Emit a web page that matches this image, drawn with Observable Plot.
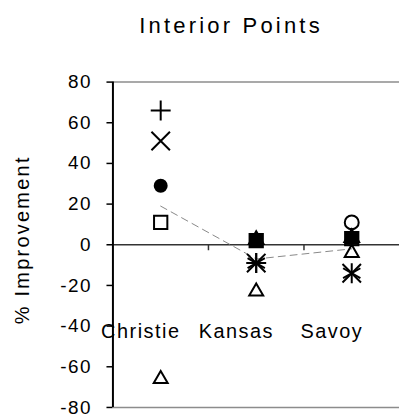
<!DOCTYPE html>
<html>
<head>
<meta charset="utf-8">
<script src="https://cdn.jsdelivr.net/npm/d3@7"></script>
<script src="https://cdn.jsdelivr.net/npm/@observablehq/plot@0.6"></script>
<style>
  html, body { margin: 0; padding: 0; background: #fff; overflow: hidden; }
  #wrap { position: relative; width: 399px; height: 419px; font-family: "Liberation Sans", Arial, sans-serif; }
  #title { position: absolute; top: 15px; left: 231px; transform: translateX(-50%); font-size: 22px; letter-spacing: 3.2px; white-space: nowrap; line-height: 1; color: #000; }
  #chart { position: absolute; top: 0; left: 0; }
  #chart svg text { font-family: "Liberation Sans", Arial, sans-serif; }
</style>
</head>
<body>
<div id="wrap">
  <div id="title">Interior Points</div>
  <div id="chart"></div>
</div>
<script>
const categories = ["Christie", "Kansas", "Savoy"];
const yTicks = [-80, -60, -40, -20, 0, 20, 40, 60, 80];

const plusSeries = [66, -9, null];
const timesSeries = [51, -9, -14];
const filledCircleSeries = [29, null, null];
const openSquareSeries = [11, 2, 3];
const openTriangleSeries = [-66, -23, -4];
const filledTriangleSeries = [null, 2.5, 3.5];
const filledSquareSeries = [null, 2, 3.5];
const asteriskSeries = [null, -9, -14];
const openCircleSeries = [null, null, 11];
const meanSeries = [19, -7, -2];

const rows = s => categories.map((c, i) => ({i, c, v: s[i]})).filter(d => d.v != null);
const boundaries = categories.slice(1).map((c, i) => i + 0.5);

const plot = Plot.plot({
  width: 401,
  height: 419,
  marginLeft: 113,
  marginRight: 0,
  marginTop: 82,
  marginBottom: 10,
  x: {domain: [-0.5, categories.length - 0.5], axis: null},
  y: {domain: [-80, 80], axis: null},
  marks: [
    Plot.ruleY([80, -80], {stroke: "#8c8c8c", strokeWidth: 1.5}),
    Plot.ruleY([0], {stroke: "#333", strokeWidth: 1.5}),
    Plot.ruleX(boundaries, {x: d => d, y1: 0, y2: 0, insetBottom: -6, stroke: "#333", strokeWidth: 1.5}),
    Plot.axisY({ticks: yTicks, tickSize: 6, tickPadding: 15, fontSize: 19, tickFormat: d => String(d), label: null, stroke: "#000", strokeWidth: 1.5}),
    Plot.ruleX([-0.5], {stroke: "#000", strokeWidth: 2}),
    Plot.line(rows(meanSeries), {x: "i", y: "v", stroke: "#888", strokeWidth: 1, strokeDasharray: "7,5"}),
    Plot.dot(rows(plusSeries), {x: "i", y: "v", symbol: "plus", r: 6.5, stroke: "#000", strokeWidth: 2}),
    Plot.dot(rows(timesSeries), {x: "i", y: "v", symbol: "times", r: 8.5, stroke: "#000", strokeWidth: 2}),
    Plot.dot(rows(filledCircleSeries), {x: "i", y: "v", symbol: "circle", r: 7, fill: "#000"}),
    Plot.dot(rows(openSquareSeries), {x: "i", y: "v", symbol: "square2", r: 8.5, stroke: "#000", strokeWidth: 2}),
    Plot.dot(rows(openTriangleSeries), {x: "i", y: "v", symbol: "triangle2", r: 6.7, stroke: "#000", strokeWidth: 2}),
    Plot.dot(rows(filledSquareSeries), {x: "i", y: "v", symbol: "square", r: 7.5, fill: "#000"}),
    Plot.dot(rows(filledTriangleSeries), {x: "i", y: "v", symbol: "triangle", r: 6.8, fill: "#000"}),
    Plot.dot(rows(asteriskSeries), {x: "i", y: "v", symbol: "asterisk", r: 9.5, stroke: "#000", strokeWidth: 2}),
    Plot.dot(rows(openCircleSeries), {x: "i", y: "v", symbol: "circle", r: 7, stroke: "#000", strokeWidth: 2, fill: "none"}),
    Plot.text(categories.map((c, i) => ({i, c})), {x: "i", text: "c", frameAnchor: "bottom", dy: -70, dx: -20, fontSize: 20, fill: "#000"}),
    Plot.text(["% Improvement"], {frameAnchor: "left", textAnchor: "middle", text: d => d, rotate: -90, dx: -91, dy: -5, fontSize: 20, fill: "#000", className: "ylab"})
  ]
});
plot.querySelectorAll("text").forEach(t => t.style.letterSpacing = "1.5px");
plot.querySelectorAll(".ylab text").forEach(t => t.style.letterSpacing = "2.3px");
document.getElementById("chart").appendChild(plot);
</script>
</body>
</html>
